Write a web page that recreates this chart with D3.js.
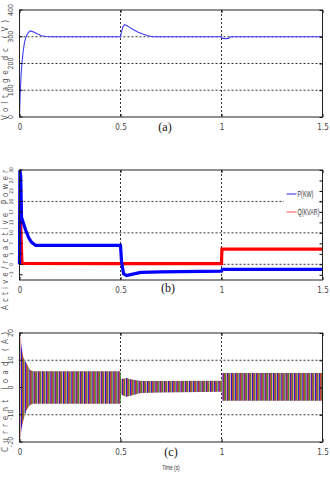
<!DOCTYPE html>
<html>
<head>
<meta charset="utf-8">
<script src="https://cdn.jsdelivr.net/npm/d3@7"></script>
<style>
  body { margin: 0; background: #fff; }
  svg { display: block; }
  .tick text { font-family: "Liberation Sans Narrow", "DejaVu Sans Condensed", "Liberation Sans", sans-serif; fill: #444; }
</style>
</head>
<body>
<svg id="graph_svg"></svg>
<script>
// x axis (time, s)
const timeTicks = [0, 0.5, 1, 1.5];
const timeLabels = ["0", "0.5", "1", "1.5"];

// (a) dc voltage
const vTime = [0, 0.004, 0.008, 0.012, 0.018, 0.025, 0.035, 0.045, 0.055, 0.07, 0.09, 0.11, 0.13, 0.15, 0.5, 0.505, 0.512, 0.52, 0.53, 0.545, 0.56, 0.585, 0.61, 0.635, 0.66, 1.0, 1.005, 1.02, 1.035, 1.045, 1.5];
const vValue = [0, 100, 160, 200, 245, 280, 305, 317, 322, 318, 310, 304, 301, 300, 300, 318, 338, 345, 342, 335, 328, 318, 310, 304, 300, 300, 294, 293, 294, 300, 300];
const vTicks = [0, 100, 200, 300, 400];
const vGrid = [100, 200, 300];

// (b) active / reactive power
const pTime = [0, 0.002, 0.006, 0.01, 0.02, 0.03, 0.045, 0.06, 0.08, 0.5, 0.505, 0.515, 0.53, 0.55, 0.6, 0.7, 1.0, 1.005, 1.5];
const pValue = [0, 30, 28, 15, 13, 11, 8.5, 7, 6, 6, 1, -3, -3.6, -3.3, -2.6, -2.4, -2.2, -1.6, -1.6];
const qTime = [0, 0.002, 0.004, 0.008, 0.012, 0.5, 1.0, 1.002, 1.5];
const qValue = [0, 12, 18.5, 8, 0.3, 0.2, 0.2, 4.8, 4.8];
const bTicks = [-3.33, 0, 3.33, 6.67, 10, 13.33, 16.67, 20, 23.33, 26.67, 30];
const bGrid = [0, 10, 20];
const legendNames = ["P(KW)", "Q(KVAR)"];

// (c) load currents, envelope of the three phases
const cTime = [0, 0.003, 0.01, 0.019, 0.035, 0.052, 0.068, 0.5, 0.503, 0.515, 0.53, 0.55, 0.6, 0.7, 1.0, 1.003, 1.5];
const cUpper = [20, 20, 15, 11, 8.8, 6.4, 6, 6, 3, 3.3, 3.5, 3, 2.4, 2.4, 2.5, 5.3, 5.3];
const cLower = [-20, -20, -15, -12, -8.3, -6.4, -6, -6, -2.5, -3, -3.4, -3, -2, -1.8, -1.6, -4.9, -4.9];
const cTicks = [-20, -10, 0, 10, 20];
const cGrid = [-10, 10];

const width = 330, height = 480;
const svg = d3.select("#graph_svg").attr("width", width).attr("height", height);

const x = d3.scaleLinear().domain([0, 1.5]).range([19.5, 322.5]);
const left = x.range()[0], right = x.range()[1];

// stripes standing for the three phase currents
const defs = svg.append("defs");
const pat = defs.append("pattern")
    .attr("id", "phases")
    .attr("patternUnits", "userSpaceOnUse")
    .attr("width", 4.2).attr("height", 10);
pat.append("rect").attr("x", 0).attr("y", 0).attr("width", 4.2).attr("height", 10).attr("fill", "#f4a4a4");
pat.append("rect").attr("x", 0).attr("y", 0).attr("width", 1.1).attr("height", 10).attr("fill", "#1414e0");
pat.append("rect").attr("x", 1.1).attr("y", 0).attr("width", 1.1).attr("height", 10).attr("fill", "#e41414");
pat.append("rect").attr("x", 2.2).attr("y", 0).attr("width", 1.0).attr("height", 10).attr("fill", "#128a12");

function drawPanel(cfg) {
    const y = d3.scaleLinear().domain(cfg.domain).range([cfg.bottom, cfg.top]);
    const g = svg.append("g");

    // dotted grid
    g.append("g")
        .selectAll("line.h")
        .data(cfg.grid).enter()
        .append("line")
        .attr("x1", left).attr("x2", right)
        .attr("y1", d => y(d)).attr("y2", d => y(d))
        .attr("stroke", "#000").attr("stroke-width", 0.8)
        .attr("stroke-dasharray", "2,2");
    g.append("g")
        .selectAll("line.v")
        .data([0.5, 1]).enter()
        .append("line")
        .attr("x1", d => x(d)).attr("x2", d => x(d))
        .attr("y1", cfg.top).attr("y2", cfg.bottom)
        .attr("stroke", "#000").attr("stroke-width", 0.8)
        .attr("stroke-dasharray", "2,2");

    cfg.draw(g, y);

    // axes with inward ticks
    const ax = d3.axisBottom(x).tickValues(timeTicks)
        .tickFormat((d, i) => timeLabels[i]).tickSizeInner(-3).tickSizeOuter(0).tickPadding(7);
    g.append("g").attr("transform", `translate(0,${cfg.bottom})`).call(ax)
        .call(s => s.select(".domain").remove())
        .selectAll("text").style("font-size", "8px");
    g.append("g").attr("transform", `translate(0,${cfg.top})`)
        .call(d3.axisTop(x).tickValues(timeTicks).tickSizeInner(-3).tickSizeOuter(0).tickFormat(""))
        .call(s => s.select(".domain").remove());

    const ay = d3.axisLeft(y).tickValues(cfg.ticks).tickSizeInner(-3).tickSizeOuter(0)
        .tickFormat(cfg.format || (d => d));
    const yAxis = g.append("g").attr("transform", `translate(${left},0)`).call(ay)
        .call(s => s.select(".domain").remove());
    yAxis.selectAll("text")
        .attr("x", 0).attr("dy", 0)
        .attr("text-anchor", "middle")
        .attr("transform", d => `translate(-7,${y(d)}) rotate(-90)`)
        .attr("y", 0)
        .style("font-size", cfg.tickFont);
    yAxis.selectAll(".tick").attr("transform", null)
        .select("line").attr("y1", d => y(d)).attr("y2", d => y(d));
    g.append("g").attr("transform", `translate(${right},0)`)
        .call(d3.axisRight(y).tickValues(cfg.ticks).tickSizeInner(-3).tickSizeOuter(0).tickFormat(""))
        .call(s => s.select(".domain").remove());

    if (cfg.overlay) cfg.overlay(g, y);

    // frame
    g.append("rect")
        .attr("x", left).attr("y", cfg.top)
        .attr("width", right - left).attr("height", cfg.bottom - cfg.top)
        .attr("fill", "none").attr("stroke", "#222").attr("stroke-width", 1);

    // y title
    g.append("text")
        .attr("transform", `translate(8,${cfg.titleCenter}) rotate(-90)`)
        .attr("text-anchor", "middle")
        .attr("textLength", cfg.titleLength)
        .attr("lengthAdjust", "spacing")
        .style("font-family", "'Liberation Sans Narrow', 'DejaVu Sans Condensed', sans-serif")
        .style("font-size", "8px")
        .style("fill", "#555")
        .text(cfg.title);

    // panel label
    g.append("text")
        .attr("x", cfg.labelX).attr("y", cfg.labelY)
        .attr("text-anchor", "middle")
        .style("font-family", "'Liberation Serif', 'DejaVu Serif', serif")
        .style("font-size", "12px")
        .style("fill", "#111")
        .text(cfg.label);
    return y;
}

// (a)
drawPanel({
    top: 10, bottom: 117, domain: [0, 400], ticks: vTicks, grid: vGrid, tickFont: "7px",
    title: "Voltage dc (V)", titleCenter: 70, titleLength: 100,
    label: "(a)", labelX: 165, labelY: 131,
    draw: (g, y) => {
        const line = d3.line().x((d, i) => x(vTime[i])).y(d => y(d));
        g.append("path").datum(vValue).attr("d", line)
            .attr("fill", "none").attr("stroke", "#3b3bff").attr("stroke-width", 1.1);
    }
});

// (b)
drawPanel({
    top: 170, bottom: 280, domain: [-5, 30], ticks: bTicks, grid: bGrid, tickFont: "5px",
    format: d3.format(".0f"),
    title: "Active/reactive Power", titleCenter: 240, titleLength: 140,
    label: "(b)", labelX: 168, labelY: 292,
    draw: (g, y) => {
        const lp = d3.line().x((d, i) => x(pTime[i])).y(d => y(d));
        const lq = d3.line().x((d, i) => x(qTime[i])).y(d => y(d));
        g.append("path").datum(qValue).attr("d", lq)
            .attr("fill", "none").attr("stroke", "#ff0000").attr("stroke-width", 3.2);
        g.append("path").datum(pValue).attr("d", lp)
            .attr("fill", "none").attr("stroke", "#0000ff").attr("stroke-width", 3.2);
    },
    overlay: (g, y) => {
        const lg = g.append("g");
        lg.append("rect").attr("x", 284).attr("y", 186).attr("width", 35).attr("height", 32).attr("fill", "#fff");
        const colors = ["#4d4dff", "#ff6464"];
        legendNames.forEach((name, i) => {
            const ly = 194 + i * 18;
            lg.append("line").attr("x1", 286.5).attr("x2", 296.5).attr("y1", ly).attr("y2", ly)
                .attr("stroke", colors[i]).attr("stroke-width", 1.2);
            // horizontally squeezed text, like the narrow legend font of the figure
            lg.append("text")
                .attr("transform", `translate(297.5,${ly + 3}) scale(0.6,1)`)
                .style("font-family", "'Liberation Sans', 'DejaVu Sans', sans-serif")
                .style("font-size", "9px").style("fill", "#333").text(name);
        });
    }
});

// (c)
drawPanel({
    top: 333, bottom: 442, domain: [-20, 20], ticks: cTicks, grid: cGrid, tickFont: "7px",
    title: "Current load (A)", titleCenter: 392, titleLength: 120,
    label: "(c)", labelX: 171, labelY: 456,
    draw: (g, y) => {
        const area = d3.area().x((d, i) => x(cTime[i])).y0((d, i) => y(cLower[i])).y1(d => y(d));
        g.append("path").datum(cUpper).attr("d", area)
            .attr("fill", "url(#phases)").attr("stroke", "none");
    }
});

svg.append("text")
    .attr("transform", "translate(171,470) scale(0.6,1)")
    .attr("text-anchor", "middle")
    .style("font-family", "'Liberation Sans', 'DejaVu Sans', sans-serif")
    .style("font-size", "8px").style("fill", "#333")
    .text("Time (s)");
</script>
</body>
</html>
